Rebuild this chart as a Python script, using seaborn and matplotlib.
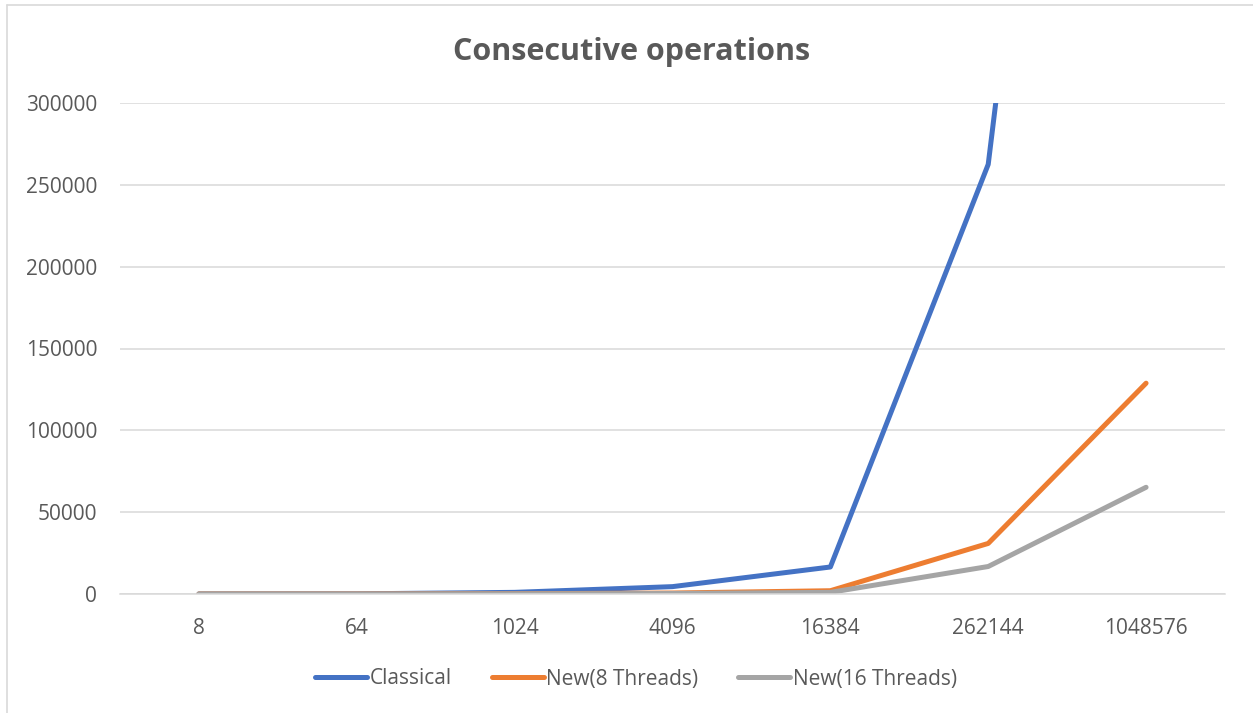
import matplotlib
matplotlib.use("Agg")
import matplotlib.pyplot as plt
import seaborn as sns
import pandas as pd
from matplotlib.lines import Line2D

# Problem sizes (categorical x axis)
sizes = ["8", "64", "1024", "4096", "16384", "262144", "1048576"]

# Execution times per implementation
classical = [10, 100, 1000, 4500, 16500, 262500, 1050000]
new_8_threads = [5, 30, 150, 600, 2000, 30900, 128800]
new_16_threads = [5, 20, 100, 300, 1000, 16800, 65200]

series_names = ["Classical", "New(8 Threads)", "New(16 Threads)"]
series_colors = ["#4472C4", "#ED7D31", "#A5A5A5"]
y_ticks = [0, 50000, 100000, 150000, 200000, 250000, 300000]

rows = []
for name, vals in zip(series_names, [classical, new_8_threads, new_16_threads]):
    for i, v in enumerate(vals):
        rows.append({"pos": i, "value": v, "series": name})
df = pd.DataFrame(rows)

sns.set_theme(style="white")
plt.rcParams["font.family"] = ["Open Sans", "DejaVu Sans"]

W, H = 1253, 713
fig = plt.figure(figsize=(W / 100, H / 100), dpi=100)
ax = fig.add_axes([120 / W, 1 - 594 / H, (1225 - 120) / W, (594 - 103) / H])

sns.lineplot(
    data=df, x="pos", y="value", hue="series", hue_order=series_names,
    palette=series_colors, sort=False, linewidth=3.6, ax=ax, legend=False,
    estimator=None,
)
for ln in ax.get_lines():
    ln.set_solid_capstyle("round")
    ln.set_solid_joinstyle("round")

ax.set_xlim(-0.5, len(sizes) - 0.5)
ax.set_ylim(0, 300000)
ax.set_xticks(range(len(sizes)))
ax.set_xticklabels(sizes)
ax.set_yticks(y_ticks)
ax.set_yticklabels([str(t) for t in y_ticks])
ax.set_xlabel("")
ax.set_ylabel("")

ax.grid(axis="y", color="#D9D9D9", linewidth=1.1)
ax.set_axisbelow(True)
for side in ["top", "right", "left"]:
    ax.spines[side].set_visible(False)
ax.spines["bottom"].set_color("#D9D9D9")
ax.spines["bottom"].set_linewidth(1.1)
ax.tick_params(axis="both", length=0, labelsize=15, colors="#595959")
ax.tick_params(axis="y", pad=16.5)
ax.tick_params(axis="x", pad=17)

fig.text(632 / W, 1 - 52 / H, "Consecutive operations", ha="center", va="center",
         fontsize=22, fontweight="bold", color="#595959")

handles = [Line2D([0], [0], color=c, linewidth=3.6, solid_capstyle="round")
           for c in series_colors]
leg = fig.legend(handles, series_names, loc="center", bbox_to_anchor=(636 / W, 1 - 679 / H),
                 ncol=3, frameon=False, fontsize=15, handlelength=2.5,
                 handletextpad=0.12, columnspacing=1.9)
for t in leg.get_texts():
    t.set_color("#595959")

# Chart frame
fig.add_artist(Line2D([7 / W, 7 / W], [0, 1 - 5 / H], color="#D9D9D9", linewidth=1.2,
                      transform=fig.transFigure))
fig.add_artist(Line2D([7 / W, 1], [1 - 5 / H, 1 - 5 / H], color="#D9D9D9", linewidth=1.2,
                      transform=fig.transFigure))

fig.savefig("out.png", dpi=100, facecolor="white")
